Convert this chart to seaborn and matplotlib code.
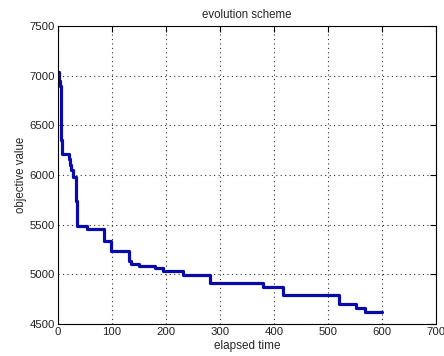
import numpy as np
import pandas as pd
import seaborn as sns
import matplotlib
matplotlib.use("Agg")
import matplotlib.pyplot as plt

# step points (time where the value changes, value after it)
elapsed = [0, 2, 4, 5, 6, 7, 21, 22, 25, 27, 34, 35, 53, 85, 99, 132, 136, 150,
           180, 195, 232, 281, 380, 416, 520, 552, 569, 600]
objective = [7040, 6950, 6900, 6520, 6350, 6210, 6160, 6100, 6050, 5980, 5740,
             5490, 5460, 5340, 5230, 5130, 5100, 5080, 5060, 5030, 4990, 4915,
             4870, 4790, 4700, 4665, 4625, 4625]

x_ticks = [0, 100, 200, 300, 400, 500, 600, 700]
y_ticks = [4500, 5000, 5500, 6000, 6500, 7000, 7500]

df = pd.DataFrame({"elapsed time": elapsed, "objective value": objective})

sns.set_style("white")
plt.rcParams['font.family'] = ['Liberation Sans', 'DejaVu Sans']

fig = plt.figure(figsize=(4.44, 3.56), dpi=100)
ax = fig.add_axes([0.1306, 0.0899, 0.8514, 0.8371])

sns.lineplot(data=df, x="elapsed time", y="objective value", ax=ax,
             drawstyle="steps-post", color="#0a0aa8", linewidth=2.3)

ax.set_xlim(0, 700)
ax.set_ylim(4500, 7500)
ax.set_xticks(x_ticks)
ax.set_yticks(y_ticks)
ax.grid(True, linestyle=(0, (1, 3)), color="#303030", linewidth=0.8)
for s in ax.spines.values():
    s.set_color("black")
    s.set_linewidth(0.8)
ax.tick_params(direction="in", length=4, width=0.8, top=True, right=True,
               labelsize=8.2, pad=2, color="black", labelcolor="#222222")
ax.set_title("evolution scheme", fontsize=8.3, pad=6)
ax.set_xlabel("elapsed time", fontsize=8.5, labelpad=2)
ax.set_ylabel("objective value", fontsize=8.3, labelpad=2)

fig.savefig("out.png", dpi=100)
